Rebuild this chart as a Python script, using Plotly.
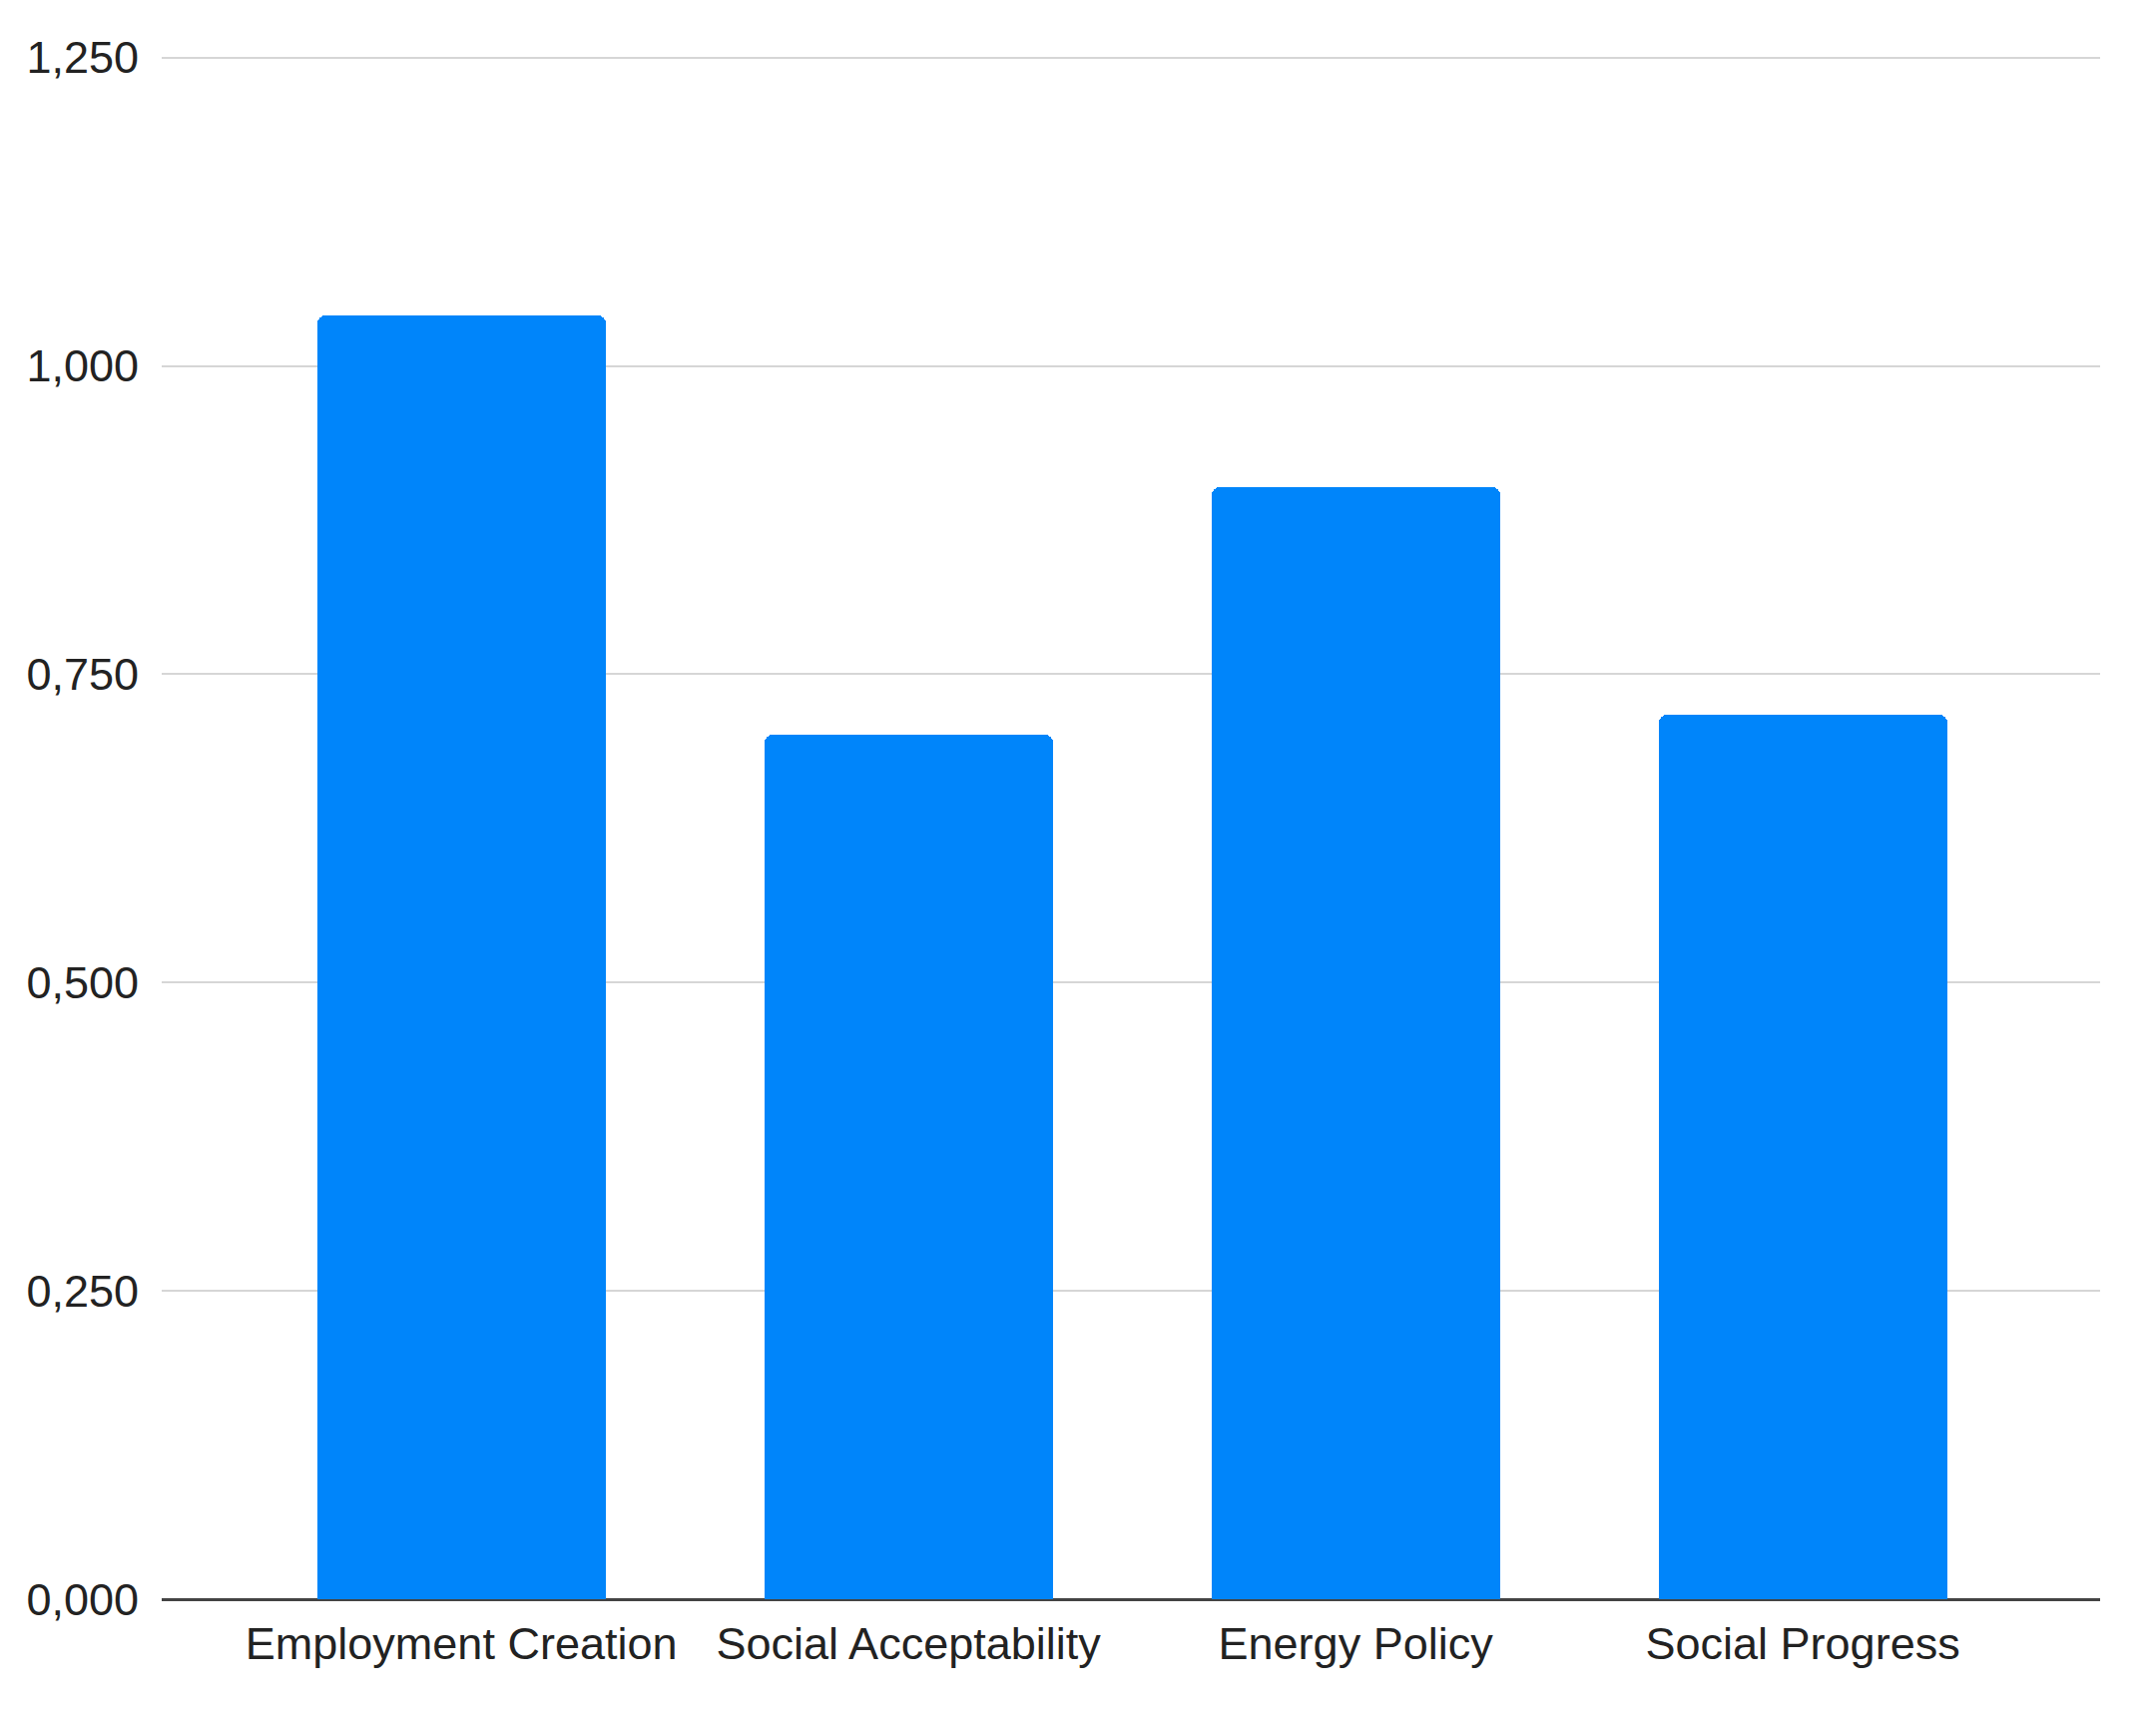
import plotly.graph_objects as go

categories = ["Employment Creation", "Social Acceptability", "Energy Policy", "Social Progress"]
values = [1.041, 0.701, 0.902, 0.717]
y_tickvals = [0, 0.25, 0.5, 0.75, 1.0, 1.25]
y_ticktext = ["0,000", "0,250", "0,500", "0,750", "1,000", "1,250"]

fig = go.Figure(go.Bar(
    x=list(range(len(categories))),
    y=values,
    width=0.645,
    marker=dict(color="#0085FA", cornerradius=8, line=dict(width=0)),
))

font_family = "Liberation Sans, Arial, sans-serif"
fig.update_layout(
    width=2144, height=1697,
    margin=dict(l=154, r=48, t=41, b=103),
    paper_bgcolor="white", plot_bgcolor="white",
    showlegend=False,
    font=dict(family=font_family, size=45, color="#222222"),
    bargap=0,
)
fig.update_xaxes(
    tickvals=list(range(len(categories))),
    ticktext=categories,
    range=[-0.67, 3.665],
    showgrid=False, zeroline=False, showline=False,
    ticks="", ticklabelstandoff=14,
    tickfont=dict(size=45, color="#222222"),
)
fig.update_yaxes(
    range=[0, 1.257],
    tickvals=y_tickvals, ticktext=y_ticktext,
    showgrid=True, gridcolor="#d6d6d6", gridwidth=2,
    zeroline=True, zerolinecolor="#444444", zerolinewidth=3,
    showline=False, ticks="", ticklabelstandoff=22,
    tickfont=dict(size=45, color="#222222"),
)
fig.write_html("out.html")
